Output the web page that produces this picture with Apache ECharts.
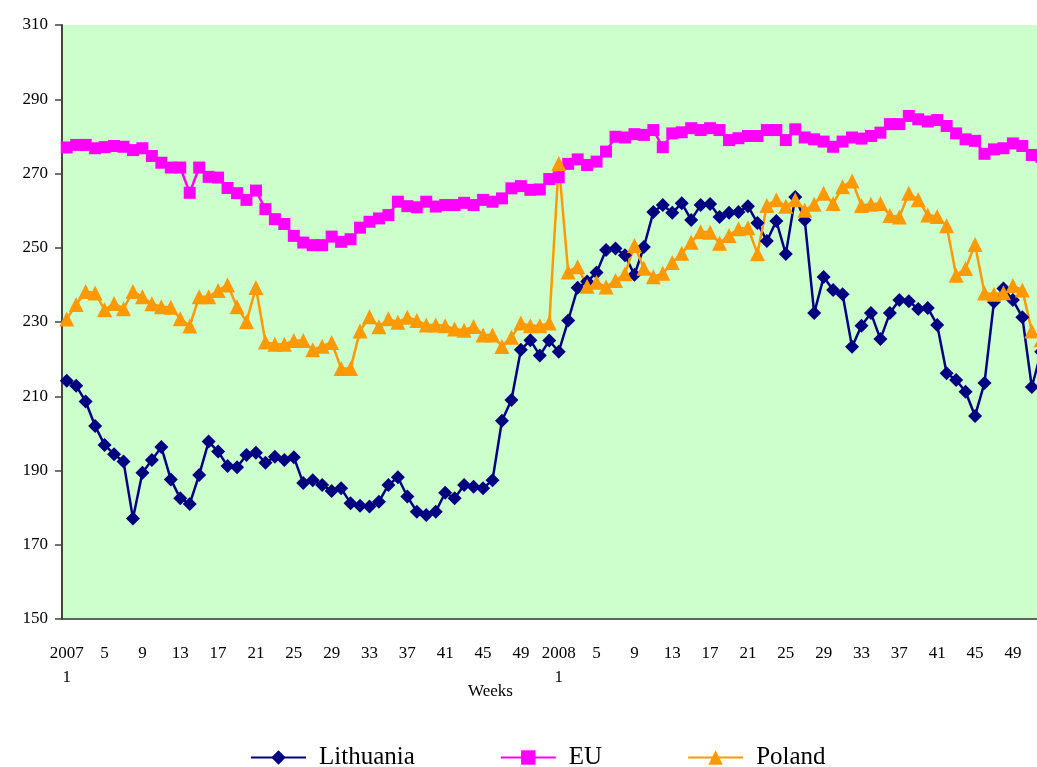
<!DOCTYPE html>
<html>
<head>
<meta charset="utf-8">
<script src="https://cdn.jsdelivr.net/npm/echarts@6/dist/echarts.min.js"></script>
<style>
html,body{margin:0;padding:0;background:#fff;overflow:hidden;}
#c{width:1060px;height:767px;}
</style>
</head>
<body>
<div id="c"></div>
<script>
// Category labels
var weeks2007 = [1,2,3,4,5,6,7,8,9,10,11,12,13,14,15,16,17,18,19,20,21,22,23,24,25,26,27,28,29,30,31,32,33,34,35,36,37,38,39,40,41,42,43,44,45,46,47,48,49,50,51,52];
var weeks2008 = [1,2,3,4,5,6,7,8,9,10,11,12,13,14,15,16,17,18,19,20,21,22,23,24,25,26,27,28,29,30,31,32,33,34,35,36,37,38,39,40,41,42,43,44,45,46,47,48,49,50,51,52];
var years = ['2007', '2008'];

// Series values (2007 weeks 1-52, then 2008 weeks 1-52)
var lithuania2007 = [214.2,212.8,208.6,202,196.9,194.4,192.4,177.1,189.4,192.8,196.3,187.6,182.5,181,188.8,197.8,195.1,191.2,190.9,194.2,194.8,192.1,193.7,192.8,193.6,186.6,187.4,186.1,184.5,185.2,181.2,180.5,180.3,181.6,186.1,188.2,183,178.9,178,178.9,184,182.5,186.1,185.6,185.2,187.4,203.4,209,222.5,225.1,221,225];
var lithuania2008 = [222,230.4,239.2,240.9,243.3,249.4,249.8,248,242.7,250.2,259.6,261.5,259.4,262,257.5,261.5,261.8,258.3,259.4,259.6,261.2,256.7,251.8,257.2,248.3,263.7,257.5,232.4,242.1,238.6,237.5,223.3,229,232.4,225.4,232.4,235.9,235.6,233.5,233.8,229.2,216.2,214.4,211.2,204.7,213.6,235.4,239,235.9,231.3,212.5,222];
var eu2007 = [277,277.7,277.7,276.8,277.1,277.4,277.2,276.3,276.8,274.7,272.9,271.6,271.6,264.8,271.6,269.1,268.9,266.1,264.7,262.9,265.4,260.4,257.7,256.4,253.2,251.4,250.7,250.7,253,251.6,252.3,255.4,257,257.9,258.8,262.4,261.2,260.9,262.4,261.1,261.5,261.5,262.1,261.5,262.9,262.4,263.3,266,266.6,265.6,265.7,268.5];
var eu2008 = [269,272.6,273.8,272.3,273.2,275.9,279.9,279.7,280.6,280.4,281.7,277.1,280.8,281.1,282.2,281.7,282.2,281.7,279,279.5,280.1,280.1,281.7,281.7,279,281.9,279.7,279.2,278.6,277.2,278.6,279.7,279.4,280.1,281,283.3,283.3,285.5,284.6,284,284.4,282.8,280.8,279.2,278.8,275.3,276.5,276.8,278.1,277.4,275,274.5];
var poland2007 = [230.8,234.7,238.2,237.8,233.3,235,233.6,238.2,236.8,234.9,234.1,234,230.9,228.9,236.8,236.8,238.5,240,234.1,230.1,239.3,224.6,224,224,225,225,222.5,223.5,224.5,217.5,217.5,227.6,231.4,228.7,230.9,229.9,231.3,230.4,229.2,229.2,229,228.1,227.8,228.8,226.5,226.5,223.4,225.9,229.7,229,229,229.7];
var poland2008 = [272.7,243.5,244.9,239.6,240.7,239.4,241.2,243,250.6,244.5,242.2,243.1,246,248.5,251.5,254.3,254.2,251.2,253.3,255.1,255.4,248.4,261.4,262.9,261.2,262.9,260.1,261.7,264.7,261.9,266.4,268,261.4,261.7,261.9,258.7,258.3,264.7,262.9,258.8,258.4,255.9,242.6,244.4,250.9,237.8,237.5,237.9,239.8,238.6,227.6,225.2];

// Y-axis tick labels
var yTicks = [150,170,190,210,230,250,270,290,310];

var categories = [];
weeks2007.forEach(function(w){ categories.push(w === 1 ? years[0] + '\n' + w : String(w)); });
weeks2008.forEach(function(w){ categories.push(w === 1 ? years[1] + '\n' + w : String(w)); });

var fontFam = '"Liberation Serif","Times New Roman",serif';
var chart = echarts.init(document.getElementById('c'), null, {renderer:'canvas'});
chart.setOption({
  animation: false,
  backgroundColor: '#ffffff',
  grid: {left: 62, top: 25, width: 984, height: 594, show: true, backgroundColor: '#CCFFCC', borderWidth: 0},
  xAxis: {
    type: 'category',
    data: categories,
    boundaryGap: true,
    axisLine: {lineStyle: {color: '#333', width: 1.5}},
    axisTick: {show: false},
    splitLine: {show: false},
    axisLabel: {
      interval: function(i){ return i % 4 === 0; },
      fontFamily: fontFam, fontSize: 17, color: '#000', margin: 23, lineHeight: 24
    }
  },
  yAxis: {
    type: 'value',
    min: yTicks[0], max: yTicks[yTicks.length-1], interval: 20,
    axisLine: {show: true, lineStyle: {color: '#444', width: 2}},
    axisTick: {show: true, length: 7, lineStyle: {color: '#444', width: 1.5}},
    splitLine: {show: false},
    axisLabel: {fontFamily: fontFam, fontSize: 17, color: '#000', margin: 14}
  },
  legend: {
    left: 245, top: 740,
    itemWidth: 55, itemHeight: 18, itemGap: 85,
    textStyle: {fontFamily: fontFam, fontSize: 25, color: '#000', padding: [0,0,0,8]},
    data: ['Lithuania', 'EU', 'Poland']
  },
  graphic: [{
    type: 'text', left: 468, top: 683,
    style: {text: 'Weeks', font: '17px ' + fontFam, fill: '#000'}
  }],
  series: [
    {name: 'Lithuania', type: 'line', data: lithuania2007.concat(lithuania2008),
     symbol: 'diamond', symbolSize: 14, showAllSymbol: true,
     lineStyle: {color: '#000080', width: 2.5}, itemStyle: {color: '#000080'}},
    {name: 'EU', type: 'line', data: eu2007.concat(eu2008),
     symbol: 'rect', symbolSize: 12, showAllSymbol: true,
     lineStyle: {color: '#FF00FF', width: 2.5}, itemStyle: {color: '#FF00FF'}},
    {name: 'Poland', type: 'line', data: poland2007.concat(poland2008),
     symbol: 'triangle', symbolSize: 15, showAllSymbol: true,
     lineStyle: {color: '#FF9900', width: 2.5}, itemStyle: {color: '#FF9900'}}
  ]
});
</script>
</body>
</html>
